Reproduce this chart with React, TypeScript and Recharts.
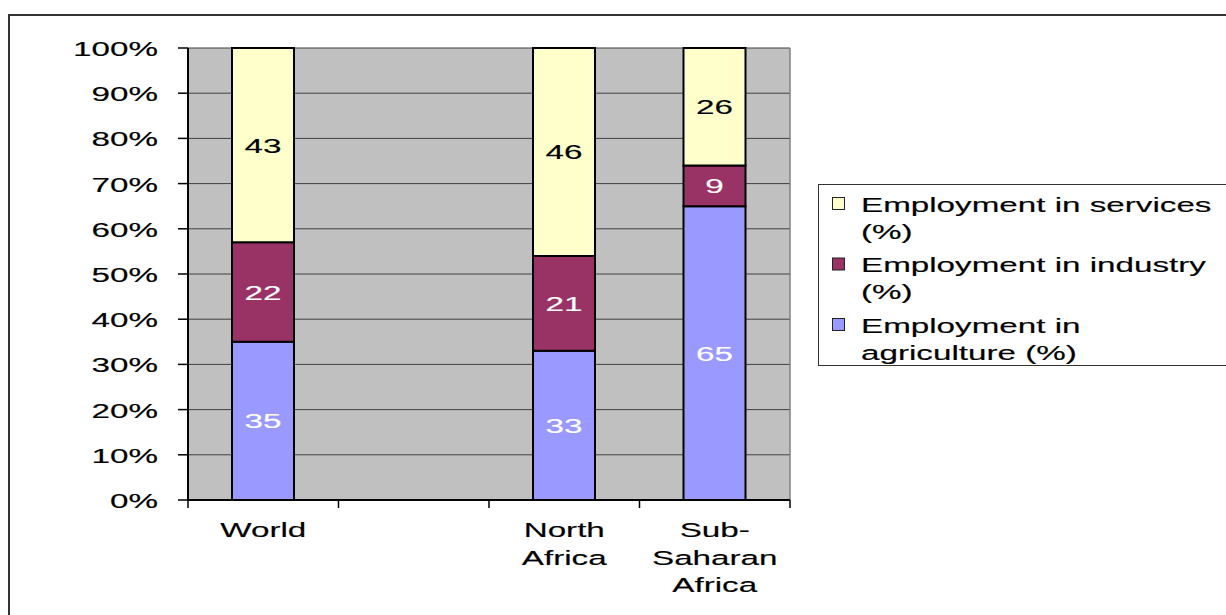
import React from "react";
import { BarChart, Bar, XAxis, YAxis, CartesianGrid, LabelList, Legend } from "recharts";

// Employment shares by sector (%), one empty slot between World and the African regions
const regions = ["World", "", "North Africa", "Sub-Saharan Africa"];
const agriculture = [35, null, 33, 65];
const industry = [22, null, 21, 9];
const services = [43, null, 46, 26];

const percentTicks = [0, 10, 20, 30, 40, 50, 60, 70, 80, 90, 100];

const SERIES = [
  { key: "agriculture", name: "Employment in agriculture (%)", fill: "#9999FF", labelColor: "#FFFFFF" },
  { key: "industry", name: "Employment in industry (%)", fill: "#993366", labelColor: "#FFFFFF" },
  { key: "services", name: "Employment in services (%)", fill: "#FFFFCC", labelColor: "#000000" },
];

const data = regions.map((region, i) => ({
  region,
  agriculture: agriculture[i],
  industry: industry[i],
  services: services[i],
}));

const FONT = "'Liberation Sans', Arial, sans-serif";
const FONT_SIZE = 20.5;
const STRETCH = 1.62;

function WideText({ x, y, anchor = "middle", fill = "#000", children }: any) {
  return (
    <text
      transform={`translate(${x},${y}) scale(${STRETCH},1)`}
      textAnchor={anchor}
      fill={fill}
      stroke={fill}
      strokeWidth={0.15}
      fontFamily={FONT}
      fontSize={FONT_SIZE}
    >
      {children}
    </text>
  );
}

const PercentTick = ({ x, y, payload }: any) => (
  <WideText x={x} y={y + 8} anchor="end">{`${payload.value}%`}</WideText>
);

// region names break at spaces and after hyphens; tick marks sit on the slot edges
const RegionTick = ({ x, y, payload, visibleTicksCount }: any) => {
  const lines = String(payload.value).replace("-", "- ").split(" ").filter(Boolean);
  const half = payload.offset || 0;
  const last = payload.index === (visibleTicksCount ?? regions.length) - 1;
  return (
    <g>
      <line x1={x - half} x2={x - half} y1={y} y2={y + 8} stroke="#000" strokeWidth={1.5} />
      {last && <line x1={x + half} x2={x + half} y1={y} y2={y + 8} stroke="#000" strokeWidth={1.5} />}
      {lines.map((line: string, i: number) => (
        <WideText key={i} x={x} y={y + 37 + i * 27.6}>{line}</WideText>
      ))}
    </g>
  );
};

const valueLabel = (color: string) => (props: any) => {
  const { x, y, width, height, value } = props;
  if (value == null) return null;
  return (
    <WideText x={x + width / 2} y={y + height / 2 + 7.5} fill={color}>{value}</WideText>
  );
};

function wrapWords(text: string, maxChars: number) {
  const out: string[] = [];
  let line = "";
  text.split(" ").forEach(word => {
    const next = line ? `${line} ${word}` : word;
    if (next.length > maxChars && line) {
      out.push(line);
      line = word;
    } else {
      line = next;
    }
  });
  if (line) out.push(line);
  return out;
}

const SectorLegend = ({ payload }: any) => {
  const items = [...(payload || [])].reverse();
  return (
    <svg width={420} height={184} style={{ display: "block" }}>
      <rect x={0.5} y={0.5} width={460} height={181} fill="#FFFFFF" stroke="#333333" strokeWidth={1} />
      {items.map((item: any, i: number) => {
        const base = 27.5 + i * 60.5;
        const lines = wrapWords(item.value, 23);
        return (
          <g key={item.value}>
            <rect x={14.5} y={base - 14} width={12} height={12} fill={item.color} stroke="#222222" strokeWidth={1} />
            {lines.map((line, j) => (
              <WideText key={j} x={43} y={base + j * 27} anchor="start">{line}</WideText>
            ))}
          </g>
        );
      })}
    </svg>
  );
};

export default function App() {
  return (
    <div style={{ position: "fixed", left: 0, top: 0, width: 1226, height: 615, overflow: "hidden", background: "#FFFFFF" }}>
      <div style={{ position: "absolute", left: 8, top: 14, width: 1300, height: 700, border: "2px solid #333333" }} />
      <div style={{ position: "absolute", left: 0, top: 0 }}>
        <BarChart
          width={1226}
          height={615}
          data={data}
          margin={{ top: 48, right: 436, bottom: 114, left: 0 }}
          barSize={62}
        >
          <CartesianGrid vertical={false} stroke="#404040" fill="#C0C0C0" />
          {/* right edge of the plot area */}
          <CartesianGrid
            horizontal={false}
            stroke="#808080"
            strokeWidth={1.5}
            verticalCoordinatesGenerator={({ offset }: any) => [offset.left + offset.width]}
          />
          <XAxis
            dataKey="region"
            interval={0}
            tick={<RegionTick />}
            tickLine={false}
            tickSize={0}
            tickMargin={0}
            axisLine={{ stroke: "#000000", strokeWidth: 2 }}
            height={1}
          />
          <YAxis
            domain={[0, 100]}
            ticks={percentTicks}
            width={188}
            tick={<PercentTick />}
            tickSize={10}
            tickMargin={20}
            tickLine={{ stroke: "#000000", strokeWidth: 1.5 }}
            axisLine={{ stroke: "#000000", strokeWidth: 2 }}
          />
          {SERIES.map(s => (
            <Bar
              key={s.key}
              dataKey={s.key}
              name={s.name}
              stackId="sector"
              fill={s.fill}
              stroke="#000000"
              strokeWidth={2}
              isAnimationActive={false}
            >
              <LabelList dataKey={s.key} content={valueLabel(s.labelColor)} />
            </Bar>
          ))}
          <Legend
            layout="vertical"
            align="center"
            verticalAlign="middle"
            content={<SectorLegend />}
            wrapperStyle={{ left: 818, top: 184, width: 420, height: 184 }}
          />
        </BarChart>
      </div>
    </div>
  );
}
